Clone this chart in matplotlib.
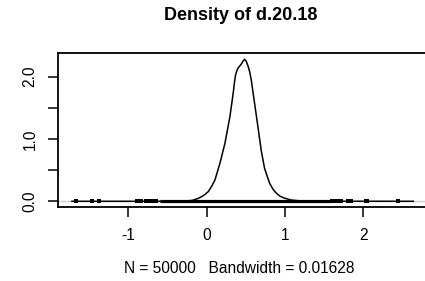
import matplotlib
matplotlib.use("Agg")
import matplotlib.pyplot as plt

plt.rcParams["font.family"] = ["Liberation Sans", "DejaVu Sans"]

# density curve
density_x = [-1.72, -0.60, -0.35, -0.25, -0.18, -0.147, -0.11, -0.064, -0.02, 0.02,
             0.06, 0.106, 0.17, 0.234, 0.298, 0.32, 0.34, 0.355, 0.37, 0.39,
             0.415, 0.442, 0.465, 0.485, 0.505, 0.527, 0.55, 0.57, 0.613, 0.655,
             0.697, 0.74, 0.804, 0.85, 0.89, 0.94, 0.996, 1.08, 1.2, 1.5, 2.64]
density_y = [0.0, 0.0, 0.002, 0.006, 0.015, 0.03, 0.045, 0.074, 0.11, 0.154,
             0.23, 0.34, 0.61, 0.93, 1.36, 1.56, 1.74, 1.90, 2.03, 2.11,
             2.16, 2.20, 2.25, 2.28, 2.25, 2.18, 2.08, 1.95, 1.57, 1.20,
             0.82, 0.53, 0.29, 0.19, 0.13, 0.08, 0.05, 0.02, 0.006, 0.001, 0.0]

# rug: isolated observations and the solid stretch where they merge
rug_points = [-1.673, -1.469, -1.372, -0.894, -0.839, -0.779, -0.733, -0.682,
              -0.648, 1.60, 1.63, 1.66, 1.72, 1.81, 1.84, 2.04, 2.05, 2.44]
rug_dense = [-0.60, 1.575]

title = "Density of d.20.18"
xlabel = "N = 50000   Bandwidth = 0.01628"
xticks = [-1, 0, 1, 2]
yticks = [0, 0.5, 1.0, 1.5, 2.0]
ytick_labels = ["0.0", "", "1.0", "", "2.0"]

fig = plt.figure(figsize=(4.25, 2.81), dpi=100)
ax = fig.add_axes([0.137, 0.2644, 0.90, 0.548])

ax.axhline(0, color="#cccccc", lw=1.0, zorder=1)
ax.plot(rug_dense, [0, 0], color="black", lw=2.3, solid_capstyle="butt", zorder=2)
ax.plot(rug_points, [0] * len(rug_points), "s", color="black",
        markersize=2.3, markeredgewidth=0, zorder=2)
ax.plot(density_x, density_y, color="black", lw=1.1, zorder=3)

ax.set_xlim(-1.895, 2.99)
ax.set_ylim(-0.087, 2.385)
ax.set_xticks(xticks)
ax.set_xticklabels([str(t) for t in xticks])
ax.set_yticks(yticks)
ax.set_yticklabels(ytick_labels, rotation=90, va="center")

for s in ax.spines.values():
    s.set_linewidth(1.3)
ax.tick_params(axis="both", length=7, width=1.1, labelsize=11.2)
ax.tick_params(axis="x", pad=8)
ax.tick_params(axis="y", pad=8)

fig.text(0.567, 0.944, title, ha="center", va="center",
         fontsize=13, fontweight="bold")
fig.text(0.564, 0.043, xlabel, ha="center", va="center", fontsize=11.2)

plt.savefig("out.png", dpi=100)
plt.close()
